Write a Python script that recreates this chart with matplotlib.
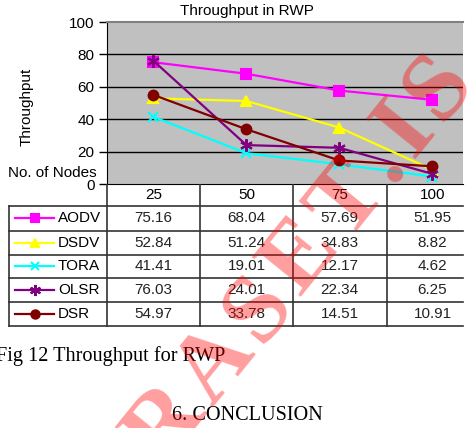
import numpy as np
import matplotlib
matplotlib.use("Agg")
import matplotlib.pyplot as plt

# data
nodes = ["25", "50", "75", "100"]
protocols = ["AODV", "DSDV", "TORA", "OLSR", "DSR"]
aodv = [75.16, 68.04, 57.69, 51.95]
dsdv = [52.84, 51.24, 34.83, 8.82]
tora = [41.41, 19.01, 12.17, 4.62]
olsr = [76.03, 24.01, 22.34, 6.25]
dsr = [54.97, 33.78, 14.51, 10.91]
series = [aodv, dsdv, tora, olsr, dsr]
yticks = [0, 20, 40, 60, 80, 100]
watermark = "RASET.IS"

colors = ["#FF00FF", "#FFFF00", "#00FFFF", "#800080", "#800000"]
markers = ["s", "^", "x", (6, 2, 0), "o"]
msizes = [7, 7, 7, 9, 7]

W, H = 470, 428
sans = "Liberation Sans"
serif = "Liberation Serif"

fig = plt.figure(figsize=(W / 100, H / 100), dpi=100)
fig.patch.set_facecolor("white")

def px(x0, y0, x1, y1):
    # pixel box (top-left origin) -> figure fraction
    return [x0 / W, 1 - y1 / H, (x1 - x0) / W, (y1 - y0) / H]

# chart
ax = fig.add_axes(px(107, 22, 463, 184))
ax.set_facecolor("#C0C0C0")
ax.set_xlim(-0.5, 3.33)
ax.set_ylim(0, 100)
for y in yticks[1:-1]:
    ax.axhline(y, color="black", lw=1, zorder=1)
x = np.arange(len(nodes))
for vals, c, m, ms in zip(series, colors, markers, msizes):
    ax.plot(x, vals, color=c, lw=1.6, marker=m, markersize=ms,
            markeredgecolor=c, markeredgewidth=1.5, zorder=3, clip_on=False)
ax.set_yticks(yticks)
ax.set_yticklabels([str(t) for t in yticks], fontsize=11, family=sans)
ax.set_xticks([])
ax.tick_params(axis="y", direction="out", length=6, width=1, pad=3)
ax.spines["right"].set_visible(False)
ax.spines["top"].set_color("#808080")
ax.spines["top"].set_linewidth(1.5)
ax.spines["left"].set_color("black")
ax.spines["bottom"].set_color("black")

fig.text(247 / W, 1 - 11 / H, "Throughput in RWP", ha="center", va="center",
         fontsize=11, family=sans)
fig.text(27 / W, 1 - 107 / H, "Throughput", ha="center", va="center",
         rotation=90, fontsize=11, family=sans)
fig.text(52 / W, 1 - 173 / H, "No. of Nodes", ha="center", va="center",
         fontsize=11, family=sans)

# data table under the chart, in pixel coords
tb = fig.add_axes(px(0, 184, W, 330))
tb.set_xlim(0, W)
tb.set_ylim(330, 184)
tb.axis("off")
col_edges = [107, 200, 293, 387]
row_edges = [206, 230.5, 254.5, 278, 302, 326]
lc = "#333333"
for xe in col_edges:
    tb.plot([xe, xe], [184, 326], color=lc, lw=1.2)
tb.plot([9, 9], [206, 326], color=lc, lw=1.2)
for ye in row_edges:
    tb.plot([9, 463], [ye, ye], color=lc, lw=1.2)
centers = [153.5 + 93 * i for i in range(len(nodes))]
for cx, n in zip(centers, nodes):
    tb.text(cx, 195, n, ha="center", va="center", fontsize=11, family=sans)
for r, (name, vals, c, m, ms) in enumerate(zip(protocols, series, colors, markers, msizes)):
    cy = (row_edges[r] + row_edges[r + 1]) / 2
    tb.plot([15, 54], [cy, cy], color=c, lw=1.6)
    tb.plot([34.5], [cy], marker=m, color=c, markersize=ms - 1,
            markeredgecolor=c, markeredgewidth=1.5)
    tb.text(58, cy, name, ha="left", va="center", fontsize=11, family=sans)
    for cx, v in zip(centers, vals):
        tb.text(cx, cy, "%.2f" % v, ha="center", va="center",
                fontsize=11, family=sans, color="#222222")

# caption text
fig.text(-4 / W, 1 - 356 / H, "Fig 12 Throughput for RWP", ha="left",
         va="center", fontsize=14.6, family=serif)
fig.text(247 / W, 1 - 416 / H, "6. CONCLUSION", ha="center", va="center",
         fontsize=14.6, family=serif)

# watermark: letter-spaced, drawn one glyph at a time along a slanted baseline
wm = fig.add_axes([0, 0, 1, 1], zorder=10)
wm.set_xlim(0, W)
wm.set_ylim(H, 0)
wm.axis("off")
ang = 51
fs = 70
track = 8
d = np.array([np.cos(np.radians(ang)), -np.sin(np.radians(ang))])
down = np.array([np.sin(np.radians(ang)), np.cos(np.radians(ang))])
rend = fig.canvas.get_renderer()
widths = []
for ch in watermark:
    t = fig.text(0, 0, ch, fontsize=fs, family=serif, weight="bold")
    widths.append(t.get_window_extent(rend).width)
    t.remove()
pos = np.array([160.0, 420.0])
cap_half = 0.33 * fs * 100 / 72
for i, ch in enumerate(watermark):
    if i > 0:
        pos = pos + d * ((widths[i - 1] + widths[i]) / 2 + track)
    base = pos + down * cap_half
    wm.text(base[0], base[1], ch, rotation=ang, rotation_mode="anchor",
            ha="center", va="baseline", fontsize=fs, family=serif,
            weight="bold", color="red", alpha=0.38)

fig.savefig("out.png", dpi=100)
